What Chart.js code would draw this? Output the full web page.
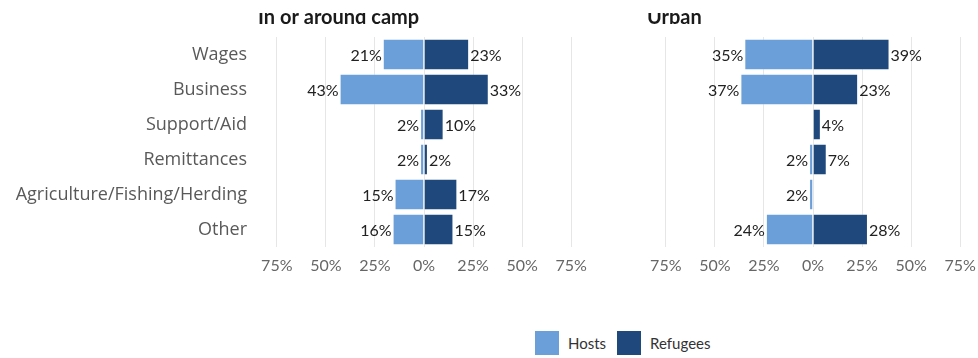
<!DOCTYPE html>
<html>
<head>
<meta charset="utf-8">
<script src="https://cdn.jsdelivr.net/npm/chart.js@4"></script>
<style>
  body { margin: 0; background: #fff; font-family: Lato, sans-serif; }
  #wrap { position: relative; width: 978px; height: 358px; overflow: hidden; }
  canvas { position: absolute; top: 0; }
  #campChart { left: 0; }
  #urbanChart { left: 600px; }
  #legend { position: absolute; top: 331px; left: 535px; display: flex; align-items: center; font-size: 15px; color: #333; }
  #legend span.box { display: inline-block; width: 24px; height: 24px; margin-right: 9px; }
  #legend span.txt { margin-right: 11px; }
</style>
</head>
<body>
<div id="wrap">
  <canvas id="campChart" width="600" height="300"></canvas>
  <canvas id="urbanChart" width="387" height="300"></canvas>
  <div id="legend"></div>
</div>
<script>
const categories = ['Wages', 'Business', 'Support/Aid', 'Remittances', 'Agriculture/Fishing/Herding', 'Other'];
const campHosts = [21, 43, 2, 2, 15, 16];
const campRefugees = [23, 33, 10, 2, 17, 15];
const urbanHosts = [35, 37, null, 2, 2, 24];
const urbanRefugees = [39, 23, 4, 7, null, 28];
const xTicks = [-75, -50, -25, 0, 25, 50, 75];

const hostColor = '#6b9fd9';
const refugeeColor = '#1f487c';

// hosts go to the left of zero, refugees to the right
function buildDatasets(hosts, refugees) {
    return [
        {
            label: 'Hosts',
            data: hosts.map(v => v == null ? null : -v),
            backgroundColor: hostColor,
            borderColor: 'rgba(255,255,255,0.3)',
            borderWidth: 1,
            borderSkipped: 'start',
            barPercentage: 0.9,
            categoryPercentage: 1
        },
        {
            label: 'Refugees',
            data: refugees,
            backgroundColor: refugeeColor,
            borderColor: 'rgba(255,255,255,0.3)',
            borderWidth: 1,
            borderSkipped: 'start',
            barPercentage: 0.9,
            categoryPercentage: 1
        }
    ];
}

// percentage labels at the end of each bar
const barLabels = {
    id: 'barLabels',
    afterDatasetsDraw(chart) {
        const ctx = chart.ctx;
        ctx.save();
        ctx.font = '16px Lato';
        ctx.fillStyle = '#222';
        ctx.textBaseline = 'middle';
        chart.data.datasets.forEach((ds, i) => {
            chart.getDatasetMeta(i).data.forEach((bar, j) => {
                const v = ds.data[j];
                if (v == null) return;
                const left = v < 0;
                ctx.textAlign = left ? 'right' : 'left';
                ctx.fillText(Math.abs(v) + '%', bar.x + (left ? -1 : 1), bar.y + 1);
            });
        });
        ctx.restore();
    }
};

// panel heading, top edge trimmed
const panelTitle = {
    id: 'panelTitle',
    afterDraw(chart, args, opts) {
        const ctx = chart.ctx;
        ctx.save();
        ctx.beginPath();
        ctx.rect(0, 13, chart.width, 30);
        ctx.clip();
        ctx.font = 'bold 20px Lato';
        ctx.fillStyle = '#1a1a1a';
        ctx.textAlign = 'left';
        ctx.textBaseline = 'alphabetic';
        ctx.fillText(opts.text, chart.chartArea.left - 9, 24);
        ctx.restore();
    }
};

function makeChart(id, title, hosts, refugees, showCategories) {
    const ctx = document.getElementById(id).getContext('2d');
    return new Chart(ctx, {
        type: 'bar',
        data: {
            labels: categories,
            datasets: buildDatasets(hosts, refugees)
        },
        plugins: [barLabels, panelTitle],
        options: {
            indexAxis: 'y',
            responsive: false,
            animation: false,
            devicePixelRatio: 1,
            layout: {
                padding: { top: 37, bottom: 0, left: showCategories ? 0 : 56, right: showCategories ? 19 : 17 }
            },
            plugins: {
                legend: { display: false },
                tooltip: { enabled: false },
                panelTitle: { text: title }
            },
            scales: {
                x: {
                    stacked: true,
                    min: -80,
                    max: 80,
                    afterBuildTicks: scale => { scale.ticks = xTicks.map(v => ({ value: v })); },
                    afterFit: scale => { scale.height = 53; },
                    grid: { color: '#e6e6e6', drawTicks: false },
                    border: { display: false },
                    ticks: {
                        padding: 9,
                        color: '#666',
                        maxRotation: 0,
                        font: { family: 'Lato', size: 16 },
                        callback: v => Math.abs(v) + '%'
                    }
                },
                y: {
                    stacked: true,
                    display: showCategories,
                    afterFit: scale => { scale.width = showCategories ? 267 : 0; },
                    grid: { display: false, drawTicks: false },
                    border: { display: false },
                    ticks: {
                        padding: 20,
                        color: '#595959',
                        font: { family: 'Open Sans', size: 18 }
                    }
                }
            }
        }
    });
}

makeChart('campChart', 'In or around camp', campHosts, campRefugees, true);
makeChart('urbanChart', 'Urban', urbanHosts, urbanRefugees, false);

// shared legend under both panels
const legend = document.getElementById('legend');
[['Hosts', hostColor], ['Refugees', refugeeColor]].forEach(([name, color]) => {
    legend.innerHTML += `<span class="box" style="background:${color}"></span><span class="txt">${name}</span>`;
});
</script>
</body>
</html>
